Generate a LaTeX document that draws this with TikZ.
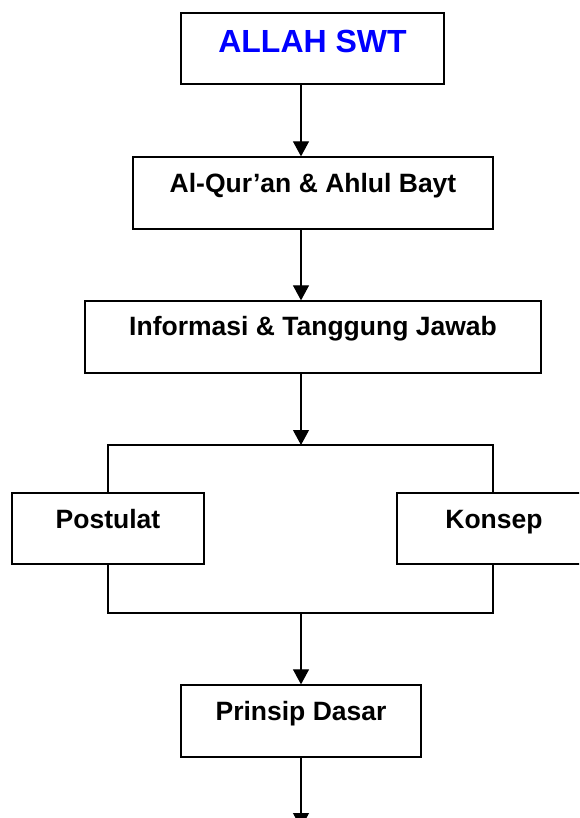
\documentclass[tikz,border=0pt]{standalone}
\usepackage{fontspec}
\setmainfont{Liberation Sans}
\usetikzlibrary{arrows.meta}
\definecolor{titleblue}{RGB}{0,0,255}
\begin{document}
\begin{tikzpicture}[x=1pt,y=-1pt,
  box/.style={draw=black,line width=1.3pt,inner sep=0pt,minimum height=#1,anchor=center,
    font=\fontsize{26.5}{30}\selectfont\bfseries},
  conn/.style={line width=1.1pt},
  arr/.style={conn,-{Triangle[length=15pt,width=16pt]}}]
\useasboundingbox (0,0) rectangle (579,818);
\clip (0,0) rectangle (579,818);
\fill[white] (0,0) rectangle (579,818);
\node[box=71pt,minimum width=263pt,text height=40pt,text depth=31pt,
  font=\fontsize{32}{36}\selectfont\bfseries,text=titleblue] (allah) at (312.5,48.5) {ALLAH SWT};
\node[box=72pt,minimum width=360pt,text height=36pt,text depth=36pt] (quran) at (313,193) {Al-Qur’an \& Ahlul Bayt};
\node[box=72pt,minimum width=456pt,text height=34pt,text depth=38pt] (info) at (313,337) {Informasi \& Tanggung Jawab};
\node[box=71pt,minimum width=192pt,text height=35pt,text depth=36pt] (post) at (108,528.5) {Postulat};
\node[box=71pt,minimum width=194pt,text height=35pt,text depth=36pt] (kons) at (494,528.5) {Konsep};
\node[box=72pt,minimum width=240pt,text height=35pt,text depth=37pt] (prin) at (301,721) {Prinsip Dasar};
\coordinate (sp) at (301,0);
\coordinate (tl) at (108,445);
\coordinate (tm) at (301,445);
\coordinate (tr) at (493,445);
\coordinate (bl) at (108,613);
\coordinate (bm) at (301,613);
\coordinate (br) at (493,613);
\coordinate (endpt) at (301,828);
\draw[arr] (allah.south -| sp) -- (quran.north -| sp);
\draw[arr] (quran.south -| sp) -- (info.north -| sp);
\draw[arr] (info.south -| sp) -- (tm);
\draw[conn] (post.north -| tl) -- (tl) -- (tr) -- (kons.north -| tr);
\draw[conn] (post.south -| bl) -- (bl) -- (br) -- (kons.south -| br);
\draw[arr] (bm) -- (prin.north -| sp);
\draw[arr] (prin.south -| sp) -- (endpt);
\end{tikzpicture}
\end{document}
